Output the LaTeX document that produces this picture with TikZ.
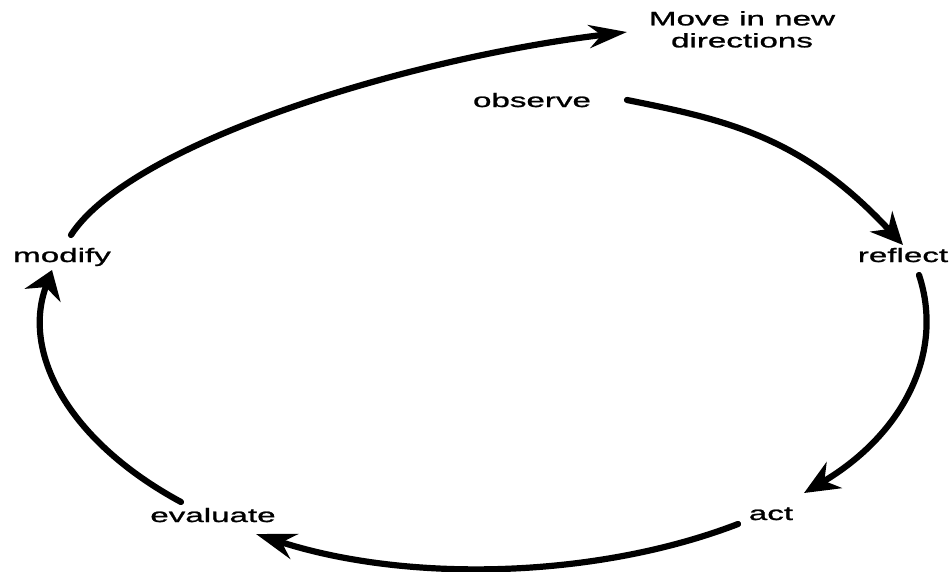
\documentclass[tikz,border=0pt]{standalone}
\usepackage{fontspec}
\newfontfamily\lblfont[FakeStretch=1.7,FakeBold=1.2]{Liberation Sans}
\usetikzlibrary{arrows.meta,calc}
\begin{document}
\begin{tikzpicture}[x=1pt,y=-1pt,
  lbl/.style={inner sep=0pt, font=\fontsize{19.5}{22}\selectfont\lblfont, text=black},
  flow/.style={line width=6.2pt, draw=black, line cap=round},
  ]
\fill[white] (0,0) rectangle (952,571);
\useasboundingbox (0,0) rectangle (952,571);

\node[lbl, anchor=north, align=center] (move) at (742,11) {Move in new\\directions};
\node[lbl, anchor=base] (observe) at (532,107) {observe};
\node[lbl, anchor=base] (reflect) at (903,262) {reflect};
\node[lbl, anchor=base] (act) at (771,520) {act};
\node[lbl, anchor=base] (evaluate) at (213,522) {evaluate};
\node[lbl, anchor=base] (modify) at (62,262) {modify};

% observe -> reflect
\draw[flow, -{Stealth[length=32pt,width=30pt]}]
  ([shift={(95,-7)}]observe.base) .. controls (727,120) and (803,137) .. ([shift={(0,-17)}]reflect.base);
% reflect -> act
\draw[flow, -{Stealth[length=35pt,width=30pt]}]
  ([shift={(16,13)}]reflect.base) .. controls (945,354) and (902,435) .. ([shift={(33,-27)}]act.base);
% act -> evaluate
\draw[flow, -{Stealth[length=40pt,width=26pt]}]
  ([shift={(-33,4)}]act.base) .. controls (595,579) and (407,583) .. ([shift={(43,12)}]evaluate.base);
% evaluate -> modify
\draw[flow, -{Stealth[length=27pt,width=38pt]}]
  ([shift={(-32,-20)}]evaluate.base) .. controls (70,442) and (21,354) .. ([shift={(-10,8)}]modify.base);
% modify -> move in new directions
\draw[flow, -{Stealth[length=38pt,width=23pt]}]
  ([shift={(9,-27)}]modify.base) .. controls (131,143) and (408,58) .. ([shift={(-115,21)}]move.north);
\end{tikzpicture}
\end{document}
